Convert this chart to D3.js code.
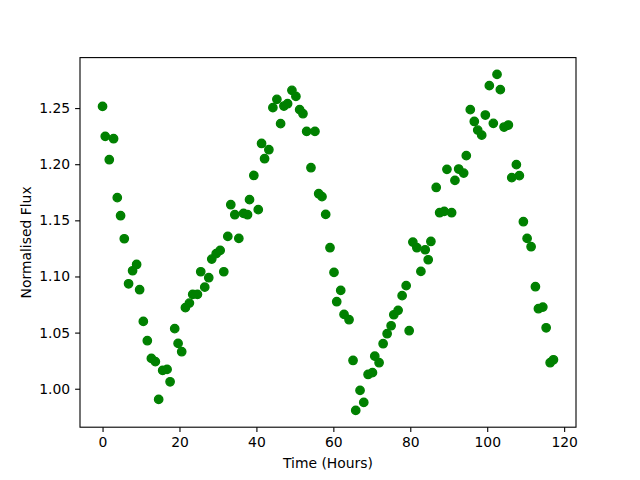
<!DOCTYPE html>
<html>
<head>
<meta charset="utf-8">
<script src="https://cdn.jsdelivr.net/npm/d3@7"></script>
<style>
  body { margin: 0; background: #fff; }
  text { font-family: "DejaVu Sans", sans-serif; }
</style>
</head>
<body>
<div id="chart"></div>
<script>
// observation time (hours) and normalised flux
const hours = [
  0, 0.70, 1.75, 2.87, 3.83, 4.69, 5.65, 6.77, 7.81, 8.86,
  9.64, 10.60, 11.64, 12.69, 13.73, 14.59, 15.63, 16.78, 17.56, 18.76,
  19.64, 20.58, 21.54, 22.58, 23.44, 24.67, 25.53, 26.57, 27.61, 28.39,
  29.54, 30.58, 31.52, 32.56, 33.34, 34.38, 35.43, 36.65, 37.69, 38.21,
  39.33, 40.48, 41.34, 42.12, 43.24, 44.28, 45.32, 46.29, 47.15, 48.11,
  49.23, 50.27, 51.24, 52.10, 53.06, 54.18, 55.22, 56.19, 57.05, 58.01,
  59.13, 60.17, 60.88, 61.92, 62.78, 64.08, 65.12, 65.82, 66.94, 67.91,
  69.03, 70.17, 70.77, 71.89, 72.94, 73.98, 75.02, 75.72, 76.84, 77.88,
  78.93, 79.71, 80.67, 81.71, 82.76, 83.88, 84.66, 85.36, 86.74, 87.63,
  88.83, 89.53, 90.75, 91.61, 92.58, 93.88, 94.56, 95.60, 96.64, 97.53,
  98.57, 99.51, 100.55, 101.59, 102.55, 103.41, 104.38, 105.50, 106.38, 107.58,
  108.36, 109.40, 110.37, 111.41, 112.53, 113.31, 114.46, 115.32, 116.36, 117.22
];
const flux = [
  1.2515, 1.2248, 1.2040, 1.2227, 1.1702, 1.1541, 1.1336, 1.0935, 1.1051, 1.1107,
  1.0882, 1.0600, 1.0428, 1.0270, 1.0241, 0.9905, 1.0163, 1.0172, 1.0062, 1.0535,
  1.0404, 1.0330, 1.0722, 1.0763, 1.0840, 1.0840, 1.1042, 1.0905, 1.0989, 1.1155,
  1.1203, 1.1232, 1.1042, 1.1357, 1.1639, 1.1550, 1.1339, 1.1562, 1.1550, 1.1684,
  1.1900, 1.1595, 1.2185, 1.2049, 1.2129, 1.2504, 1.2578, 1.2361, 1.2518, 1.2539,
  1.2658, 1.2604, 1.2486, 1.2450, 1.2292, 1.1969, 1.2292, 1.1737, 1.1711, 1.1553,
  1.1256, 1.1036, 1.0775, 1.0876, 1.0662, 1.0615, 1.0252, 0.9807, 0.9985, 0.9878,
  1.0127, 1.0143, 1.0290, 1.0232, 1.0401, 1.0490, 1.0561, 1.0659, 1.0698, 1.0829,
  1.0918, 1.0517, 1.1306, 1.1256, 1.1045, 1.1238, 1.1149, 1.1312, 1.1793, 1.1568,
  1.1580, 1.1954, 1.1568, 1.1856, 1.1957, 1.1921, 1.2076, 1.2486, 1.2381, 1.2304,
  1.2259, 1.2438, 1.2700, 1.2364, 1.2800, 1.2664, 1.2331, 1.2349, 1.1880, 1.1996,
  1.1898, 1.1488, 1.1339, 1.1265, 1.0909, 1.0713, 1.0727, 1.0543, 1.0232, 1.0258
];
const xTicks = [0, 20, 40, 60, 80, 100, 120];
const yTicks = [1.00, 1.05, 1.10, 1.15, 1.20, 1.25];

const W = 640, H = 480;
const margin = {top: 57.6, right: 64, bottom: 52.8, left: 80};
const width = W - margin.left - margin.right;
const height = H - margin.top - margin.bottom;

const data = hours.map((h, i) => ({h: h, f: flux[i]}));

// matplotlib-style 5% padding
const xExt = d3.extent(hours), yExt = d3.extent(flux);
const xPad = (xExt[1] - xExt[0]) * 0.05, yPad = (yExt[1] - yExt[0]) * 0.05;

const x = d3.scaleLinear().domain([xExt[0] - xPad, xExt[1] + xPad]).range([0, width]);
const y = d3.scaleLinear().domain([yExt[0] - yPad, yExt[1] + yPad]).range([height, 0]);

const svg = d3.select("#chart").append("svg")
  .attr("width", W)
  .attr("height", H)
  .append("g")
  .attr("transform", "translate(" + margin.left + "," + margin.top + ")");

// points
svg.selectAll("circle")
  .data(data)
  .join("circle")
  .attr("cx", d => x(d.h))
  .attr("cy", d => y(d.f))
  .attr("r", 4.17)
  .attr("fill", "#008000")
  .attr("stroke", "#008000")
  .attr("stroke-width", 1.39);

// axes
const xAxis = svg.append("g")
  .attr("transform", "translate(0," + height + ")")
  .call(d3.axisBottom(x).tickValues(xTicks).tickFormat(d3.format("d")).tickSizeOuter(0).tickSize(4.9).tickPadding(4.9));
const yAxis = svg.append("g")
  .call(d3.axisLeft(y).tickValues(yTicks).tickFormat(d3.format(".2f")).tickSizeOuter(0).tickSize(4.9).tickPadding(4.9));

[xAxis, yAxis].forEach(a => {
  a.select(".domain").remove();
  a.selectAll(".tick line").attr("stroke", "#000").attr("stroke-width", 1.1);
  a.selectAll(".tick text").attr("font-size", 13.9).attr("fill", "#000")
    .style("font-family", "DejaVu Sans, sans-serif");
});

// frame
svg.append("rect")
  .attr("width", width)
  .attr("height", height)
  .attr("fill", "none")
  .attr("stroke", "#000")
  .attr("stroke-width", 1.1);

// labels
svg.append("text")
  .attr("x", width / 2)
  .attr("y", height + 41)
  .attr("text-anchor", "middle")
  .attr("font-size", 13.9)
  .text("Time (Hours)");

svg.append("text")
  .attr("transform", "translate(-49.5," + (height / 2) + ") rotate(-90)")
  .attr("text-anchor", "middle")
  .attr("font-size", 13.9)
  .text("Normalised Flux");
</script>
</body>
</html>
